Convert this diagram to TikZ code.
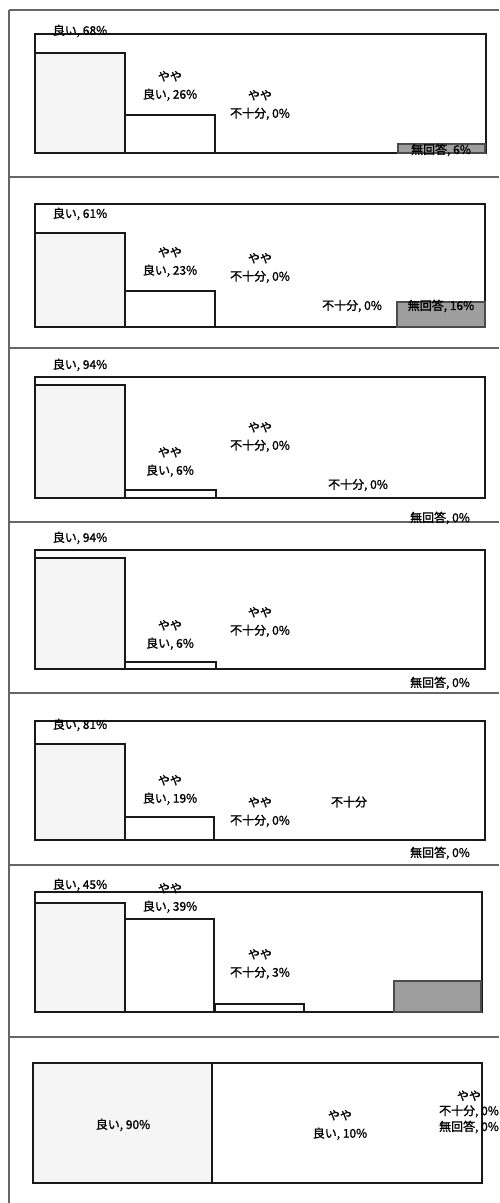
\documentclass[tikz,border=0pt]{standalone}
\usepackage{fontspec}
\newfontfamily\jp{Noto Sans CJK JP}[AutoFakeBold=1.2]
\usetikzlibrary{positioning}
\tikzset{lbl/.style={font=\jp\bfseries\fontsize{6}{9}\selectfont,align=center,inner sep=1pt}}
\tikzset{plot/.style={draw=black!90,line width=1.1pt,fill=white}}
\tikzset{bar/.style={draw=black!90,line width=1.1pt}}
\tikzset{good/.style={bar,fill=black!4}}
\tikzset{none/.style={draw=black!70,line width=0.6pt,fill=black!38}}
\tikzset{frame/.style={draw=black!60,line width=0.7pt}}

\begin{document}
\begin{tikzpicture}[x=0.5pt,y=-0.5pt]
\fill[white] (0,0) rectangle (499,1203);
\useasboundingbox (0,0) rectangle (499,1203);

% panel frames
\draw[frame] (9,10) -- (9,1203);
\foreach \y in {10,177,348,522,693,865,1037}
  \draw[frame] (9,\y) -- (499,\y);

% panel 1
\draw[plot] (35,34) rectangle (486,153);
\draw[good] (35,53) rectangle (125,153);
\draw[bar] (125,115) rectangle (215,153);
\draw[none] (398,144) rectangle (485,153);
\node[lbl] (g1) at (80,31) {良い, 68\%};
\node[lbl] (y1) at (170,86) {やや\\良い, 26\%};
\node[lbl] (f1) at (260,105) {やや\\不十分, 0\%};
\node[lbl] (n1) at (441,150) {無回答, 6\%};

% panel 2
\draw[plot] (35,204) rectangle (485,327);
\draw[good] (35,233) rectangle (125,327);
\draw[bar] (125,291) rectangle (215,327);
\draw[none] (397,302) rectangle (485,327);
\node[lbl] (g2) at (80,214) {良い, 61\%};
\node[lbl] (y2) at (170,262) {やや\\良い, 23\%};
\node[lbl] (f2) at (260,268) {やや\\不十分, 0\%};
\node[lbl] (b2) at (352,306) {不十分, 0\%};
\node[lbl] (n2) at (441,306) {無回答, 16\%};

% panel 3
\draw[plot] (35,377) rectangle (485,498);
\draw[good] (35,385) rectangle (125,498);
\draw[bar] (125,490) rectangle (216,498);
\node[lbl] (g3) at (80,365) {良い, 94\%};
\node[lbl] (y3) at (170,462) {やや\\良い, 6\%};
\node[lbl] (f3) at (260,437) {やや\\不十分, 0\%};
\node[lbl] (b3) at (358,485) {不十分, 0\%};
\node[lbl] (n3) at (440,518) {無回答, 0\%};

% panel 4
\draw[plot] (35,550) rectangle (485,669);
\draw[good] (35,558) rectangle (125,669);
\draw[bar] (125,662) rectangle (216,669);
\node[lbl] (g4) at (80,538) {良い, 94\%};
\node[lbl] (y4) at (170,635) {やや\\良い, 6\%};
\node[lbl] (f4) at (260,622) {やや\\不十分, 0\%};
\node[lbl] (n4) at (440,683) {無回答, 0\%};

% panel 5
\draw[plot] (35,721) rectangle (485,840);
\draw[good] (35,744) rectangle (125,840);
\draw[bar] (125,817) rectangle (214,840);
\node[lbl] (g5) at (80,725) {良い, 81\%};
\node[lbl] (y5) at (170,790) {やや\\良い, 19\%};
\node[lbl] (f5) at (260,812) {やや\\不十分, 0\%};
\node[lbl] (b5) at (349,802) {不十分};
\node[lbl] (n5) at (440,853) {無回答, 0\%};

% panel 6
\draw[plot] (35,892) rectangle (482,1012);
\draw[good] (35,903) rectangle (125,1012);
\draw[bar] (125,919) rectangle (214,1012);
\draw[bar] (215,1004) rectangle (304,1012);
\draw[none] (394,981) rectangle (481,1012);
\node[lbl] (g6) at (80,885) {良い, 45\%};
\node[lbl] (y6) at (170,898) {やや\\良い, 39\%};
\node[lbl] (f6) at (260,964) {やや\\不十分, 3\%};

% panel 7
\draw[plot] (33,1063) rectangle (482,1183);
\draw[good] (33,1063) rectangle (212,1183);
\draw[bar] (212,1063) rectangle (482,1183);
\node[lbl] (g7) at (123,1125) {良い, 90\%};
\node[lbl] (y7) at (340,1125) {やや\\良い, 10\%};
\node[lbl,font=\jp\bfseries\fontsize{6}{7.5}\selectfont] (f7) at (469,1104) {やや\\不十分, 0\%};
\node[lbl] (n7) at (469,1127) {無回答, 0\%};
\end{tikzpicture}
\end{document}
